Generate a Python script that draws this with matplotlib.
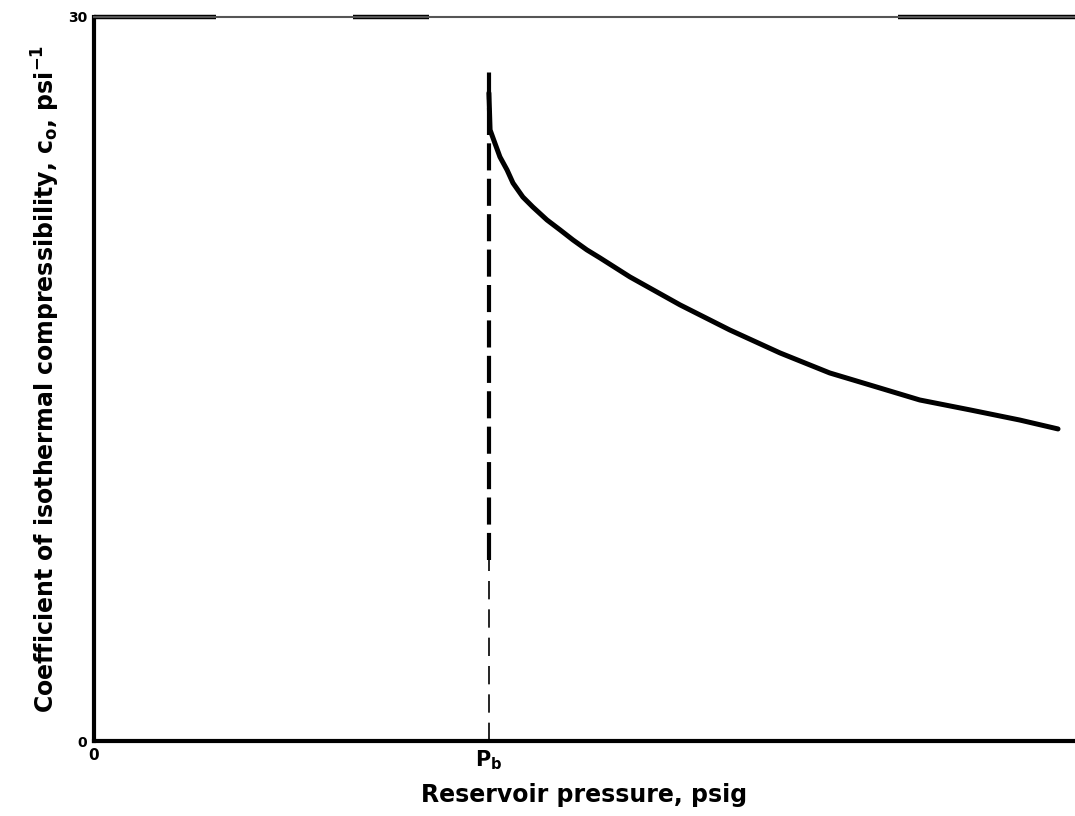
import matplotlib
matplotlib.use('Agg')
import matplotlib.pyplot as plt

# Oil compressibility above the bubble point (pressure in units of Pb)
pb = 1.0
pressure = [1.000, 1.003, 1.015, 1.028, 1.046, 1.061, 1.086, 1.111, 1.147,
            1.180, 1.213, 1.248, 1.281, 1.357, 1.484, 1.610, 1.737, 1.863,
            1.965, 2.091, 2.218, 2.344, 2.441]
c_o = [26.85, 25.32, 24.78, 24.20, 23.66, 23.12, 22.54, 22.13, 21.59,
       21.18, 20.76, 20.35, 20.02, 19.23, 18.07, 17.03, 16.08, 15.25,
       14.75, 14.13, 13.72, 13.30, 12.93]

# Dashed bubble-point marker: heavy upper part, light lower part
pb_line_top = 27.7
pb_line_split = 7.5

y_ticks = [0, 30]
y_tick_labels = ['0', '30']
x_ticks = [0, pb]
x_tick_labels = ['0', '$\\mathbf{P_b}$']

fig = plt.figure(figsize=(10.75, 8.16), dpi=100)
ax = fig.add_axes([0.0874, 0.0919, 0.9126, 0.8873])

ax.plot(pressure, c_o, color='black', linewidth=3.6, solid_capstyle='round',
        solid_joinstyle='round')
ax.plot([pb, pb], [pb_line_split, pb_line_top], color='black', linewidth=3.0,
        linestyle=(0, (6.5, 2)))
ax.plot([pb, pb], [0, pb_line_split], color='black', linewidth=1.2,
        linestyle=(0, (11, 6)))

ax.set_xlim(0, 2.484)
ax.set_ylim(0, 30)

for side in ('left', 'bottom'):
    ax.spines[side].set_linewidth(3.0)
ax.spines['top'].set_linewidth(1.5)
ax.spines['top'].set_color('#555555')
ax.spines['right'].set_visible(False)

# heavier pieces along the top frame line
for x0, x1 in [(0.0, 0.124), (0.264, 0.342), (0.820, 1.0)]:
    ax.plot([x0, x1], [1, 1], transform=ax.transAxes, color='black',
            linewidth=3.2, clip_on=False, solid_capstyle='butt')

ax.set_xticks(x_ticks)
ax.set_xticklabels(x_tick_labels, fontweight='bold')
for lbl, size in zip(ax.get_xticklabels(), [11, 15]):
    lbl.set_fontsize(size)
ax.set_yticks(y_ticks)
ax.set_yticklabels(y_tick_labels, fontsize=10, fontweight='bold')
ax.tick_params(length=0, pad=5)

ax.set_xlabel('Reservoir pressure, psig', fontsize=17, fontweight='bold',
              labelpad=8)
ax.set_ylabel('Coefficient of isothermal compressibility, $\\mathbf{c_o}$, psi$^{\\mathbf{-1}}$',
              fontsize=17, fontweight='bold', labelpad=4)

fig.savefig('out.png', dpi=100)
